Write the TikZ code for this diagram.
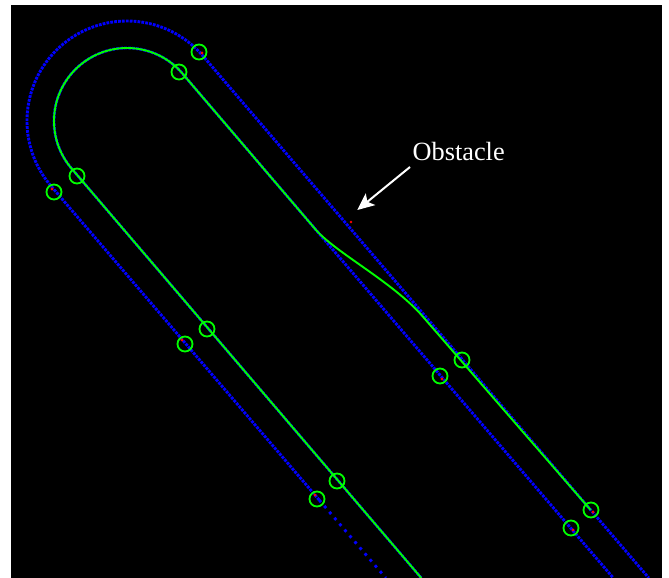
\documentclass[tikz,border=0pt]{standalone}
\usepackage{fontspec}
\setmainfont{Liberation Serif}
\usetikzlibrary{arrows.meta}
\definecolor{laneblue}{RGB}{0,0,255}
\definecolor{trackgreen}{RGB}{0,255,0}
\definecolor{markred}{RGB}{255,0,0}
\begin{document}
\begin{tikzpicture}[x=1pt,y=-1pt,
  lane/.style={draw=laneblue, line width=2.9pt, line cap=butt, dash pattern=on 2.8pt off 1.1pt},
  sparselane/.style={draw=laneblue, line width=2.9pt, line cap=butt, dash pattern=on 2.8pt off 5.0pt},
  track/.style={draw=trackgreen, line width=1.9pt},
  wp/.style={circle, draw=trackgreen, line width=1.8pt, minimum size=15pt, inner sep=0pt},
  reddot/.style={fill=markred},
  label/.style={text=white, font=\fontsize{26.3}{30}\selectfont, inner sep=0pt},
  pointer/.style={draw=white, line width=2pt, -{Stealth[length=17pt,width=15pt,inset=4pt]}}]
% frame
\fill[white] (0,0) rectangle (669,578);
\fill[black] (11,5) rectangle (662,578);
\useasboundingbox (0,0) rectangle (669,578);
% key points (pixel coordinates)
\coordinate (split) at (319.2,500);
\coordinate (olend) at (385.8,578);
\coordinate (orend) at (648.8,578);
\coordinate (ilend) at (421.3,578);
\coordinate (irend) at (613.3,578);
\coordinate (dep) at (315.6,229.5);
\coordinate (c1) at (335.1,252.3);
\coordinate (c2) at (392.8,282.0);
\coordinate (join) at (422.5,316.2);
\coordinate (gend) at (590.7,510.0);
% outer lane (blue)
\draw[lane] (split) -- plot[domain=139.5:319.5, samples=120, variable=\t] ({127+100*cos(\t)},{121+100*sin(\t)}) -- (orend);
\draw[sparselane] (split) -- (olend);
% inner lane (blue)
\draw[lane] (ilend) -- plot[domain=139.5:319.5, samples=120, variable=\t] ({127+73*cos(\t)},{121+73*sin(\t)}) -- (irend);
% trajectory (green)
\draw[track] (ilend) -- plot[domain=139.5:319.5, samples=120, variable=\t] ({127+73*cos(\t)},{121+73*sin(\t)}) -- (dep) .. controls (c1) and (c2) .. (join) -- (gend);
% waypoints
\node[wp] (w1) at (199,52) {};
\node[wp] (w2) at (179,72) {};
\node[wp] (w3) at (54,192) {};
\node[wp] (w4) at (77,176) {};
\node[wp] (w5) at (207,329) {};
\node[wp] (w6) at (185,344) {};
\node[wp] (w7) at (337,481) {};
\node[wp] (w8) at (317,499) {};
\node[wp] (w9) at (462,360) {};
\node[wp] (w10) at (440,376) {};
\node[wp] (w11) at (591,510) {};
\node[wp] (w12) at (571,528) {};
% red marks
\fill[reddot] (202,53) circle (1.6);
\fill[reddot] (52,189) circle (1.6);
\fill[reddot] (182,340) circle (1.6);
\fill[reddot] (315,495) circle (1.6);
\fill[reddot] (442,379) circle (1.6);
\fill[reddot] (593,512) circle (1.6);
\fill[reddot] (573,530) circle (1.6);
\coordinate (obstacle) at (351,222);
\fill[reddot] (obstacle) circle (1.4);
% label and arrow
\node[label, anchor=base west] (obslabel) at (412.5,160.7) {Obstacle};
\coordinate (atail) at (410,167);
\coordinate (atip) at (357.3,210);
\draw[pointer] (atail) -- (atip);
\end{tikzpicture}
\end{document}
